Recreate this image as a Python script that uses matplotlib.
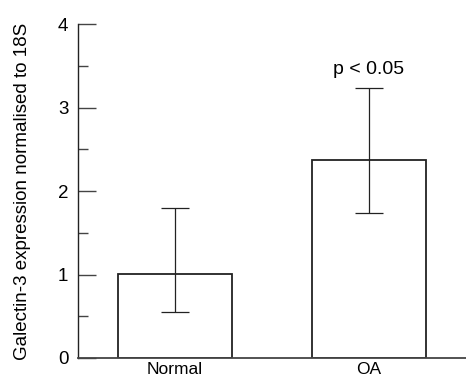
import numpy as np
import matplotlib
matplotlib.use('Agg')
import matplotlib.pyplot as plt

# datos
grupos = ["Normal", "OA"]
medias = [1.01, 2.37]
err_bajo = [0.55, 1.74]
err_alto = [1.80, 3.23]

plt.rcParams['font.family'] = ['Liberation Sans', 'DejaVu Sans']

fig = plt.figure(figsize=(4.66, 3.8), dpi=100)
ax = fig.add_axes([0.1674, 0.0579, 0.8326, 0.8789])

x = np.arange(len(grupos))
yerr = [np.array(medias) - np.array(err_bajo), np.array(err_alto) - np.array(medias)]
ax.bar(x, medias, width=0.585, color='white', edgecolor='#222222', linewidth=1.3, zorder=2)
ax.errorbar(x, medias, yerr=yerr, fmt='none', ecolor='#222222', elinewidth=0.9,
            capsize=10, capthick=0.9, zorder=3)

ax.text(x[1], err_alto[1] + 0.12, "p < 0.05", ha='center', va='bottom', fontsize=14)

ax.set_xlim(-0.5, 1.5)
ax.set_ylim(0, 4)
ax.set_xticks(x)
ax.set_xticklabels(grupos, fontsize=12.5)
ax.set_yticks([0, 1, 2, 3, 4])
ax.set_yticks([0.5, 1.5, 2.5, 3.5], minor=True)
ax.tick_params(axis='y', which='major', direction='in', length=13, width=1, pad=7, labelsize=13.5, color='#444444')
ax.tick_params(axis='y', which='minor', direction='in', length=7, width=1, color='#444444')
ax.tick_params(axis='x', length=0, pad=3)
ax.set_ylabel("Galectin-3 expression normalised to 18S", fontsize=13.5, labelpad=19)

ax.spines['top'].set_visible(False)
ax.spines['right'].set_visible(False)
ax.spines['left'].set_color('#222222')
ax.spines['bottom'].set_color('#444444')
ax.spines['left'].set_linewidth(1)
ax.spines['bottom'].set_linewidth(1.3)

plt.savefig("out.png", dpi=100)
